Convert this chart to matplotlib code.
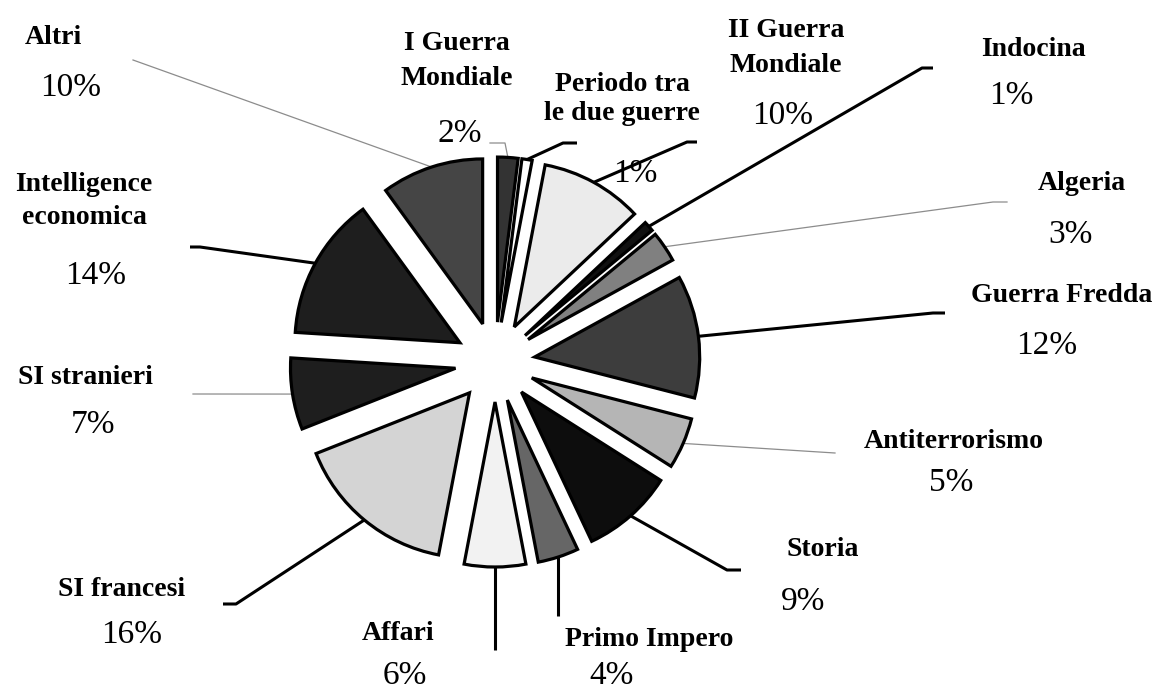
import numpy as np
import matplotlib
matplotlib.use('Agg')
import matplotlib.pyplot as plt

W, H = 1154, 695

# wedge data, clockwise from the top
categories = ['I Guerra\nMondiale', 'Periodo tra\nle due guerre', 'II Guerra\nMondiale',
              'Indocina', 'Algeria', 'Guerra Fredda', 'Antiterrorismo', 'Storia',
              'Primo Impero', 'Affari', 'SI francesi', 'SI stranieri',
              'Intelligence\neconomica', 'Altri']
shares = [2, 1, 10, 1, 3, 12, 5, 9, 4, 6, 16, 7, 14, 10]
greys = ['#333333', '#ffffff', '#ebebeb', '#111111', '#808080', '#3d3d3d', '#b5b5b5',
         '#0d0d0d', '#666666', '#f2f2f2', '#d4d4d4', '#1e1e1e', '#1e1e1e', '#454545']

# label layout in image pixels (y downwards)
name_xy = [(457, 61), (622, 99), (786, 48), (1033, 50), (1082, 184), (1062, 296),
           (954, 441), (823, 549), (649, 639), (398, 634), (122, 589), (85, 378),
           (84, 201), (53, 38)]
pct_xy = [(460, 134), (635, 174), (783, 116), (1011, 96), (1070, 235), (1047, 346),
          (951, 483), (803, 602), (612, 676), (405, 676), (132, 635), (93, 425),
          (96, 276), (71, 88)]
line_gap = [1.54, 1.19, 1.52, 1.2, 1.2, 1.2, 1.2, 1.2, 1.2, 1.2, 1.2, 1.2, 1.45, 1.2]
# leader bends after the wedge point (None = keep wedge x), thick or thin
leaders = [[(505, 143), (490, 143)], [(563, 143), (577, 143)], [(687, 142), (697, 142)],
           [(922, 68), (933, 68)], [(993, 202), (1007, 202)], [(933, 313), (945, 313)],
           [(835, 453)], [(727, 570), (741, 570)], [(None, 616)], [(None, 650)],
           [(236, 604), (223, 604)], [(193, 394)], [(200, 247), (190, 247)], [(133, 60)]]
thick = [False, True, True, True, False, True, False, True, True, True, True, False, True, False]

fig = plt.figure(figsize=(W / 100, H / 100), dpi=100)
ax = fig.add_axes([0, 0, 1, 1])

wedges, _ = ax.pie(shares, colors=greys, startangle=90, counterclock=False,
                   explode=[40] * len(shares), radius=165, center=(495, H - 362),
                   wedgeprops=dict(edgecolor='black', linewidth=2.3), frame=True)

for i, w in enumerate(wedges):
    mid = np.deg2rad((w.theta1 + w.theta2) / 2)
    x0 = w.center[0] + w.r * np.cos(mid)
    y0 = w.center[1] + w.r * np.sin(mid)
    xs, ys = [x0], [y0]
    for bx, by in leaders[i]:
        xs.append(x0 if bx is None else bx)
        ys.append(H - by)
    if thick[i]:
        ax.plot(xs, ys, color='black', lw=2.2, solid_capstyle='butt', zorder=0)
    else:
        ax.plot(xs, ys, color='#8c8c8c', lw=0.9, zorder=0)

    nx, ny = name_xy[i]
    ax.text(nx, H - ny, categories[i], ha='center', va='center', fontsize=20,
            fontweight='bold', family='Liberation Serif', linespacing=line_gap[i])
    px, py = pct_xy[i]
    ax.text(px, H - py, f'{shares[i]}%', ha='center', va='center', fontsize=24,
            family='Liberation Serif')

ax.set_xlim(0, W)
ax.set_ylim(0, H)
ax.axis('off')

fig.savefig('out.png', dpi=100, facecolor='white')
